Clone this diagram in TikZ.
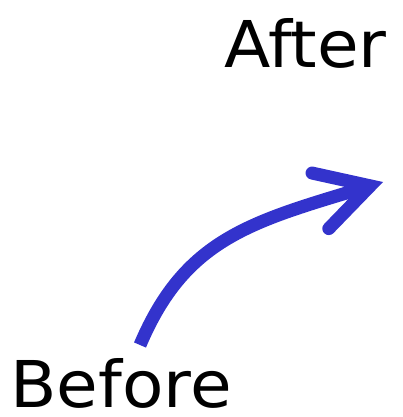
\documentclass[tikz,border=0pt]{standalone}
\usepackage{fontspec}
\setmainfont{DejaVu Sans}[FakeStretch=1.05]
\usepackage{tikz}
\usetikzlibrary{arrows.meta}
\definecolor{arrowblue}{RGB}{51,51,204}

\begin{document}
\begin{tikzpicture}[x=1pt,y=-1pt,
  label/.style={anchor=base west,inner sep=0pt,text depth=0pt,font=\fontsize{64.5}{64.5}\selectfont},
  change/.style={draw=arrowblue,line width=13pt,
    -{Straight Barb[length=52pt,width=58pt,line cap=round,line join=miter]}}]
\useasboundingbox (0,0) rectangle (402,417);
\node[label] (before) at (10,407) {Before};
\node[label] (after) at (224,68) {After};
\coordinate (start) at (140,345);
\coordinate (tip) at (383,182);
\draw[change] (start) .. controls (185,239) and (250,222) .. (tip);
\end{tikzpicture}
\end{document}
